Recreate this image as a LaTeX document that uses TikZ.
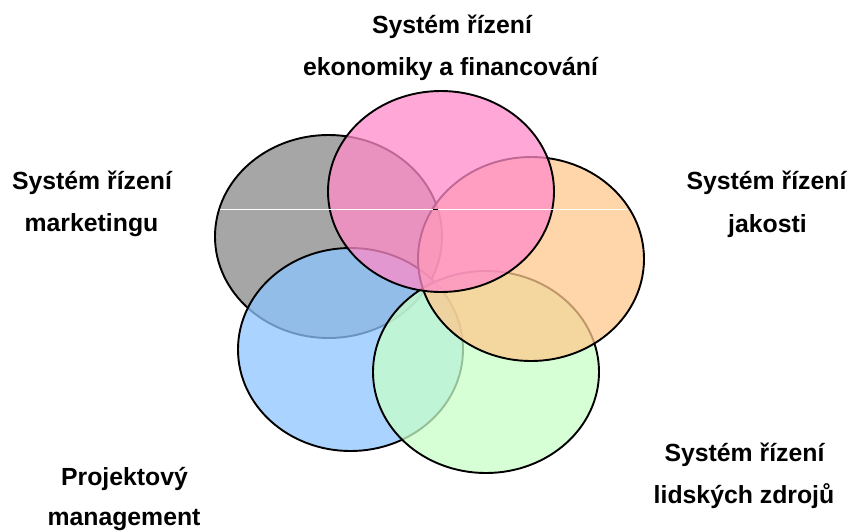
\documentclass[tikz,border=0pt]{standalone}
\usepackage{fontspec}
\setmainfont{Liberation Sans}
\begin{document}
\begin{tikzpicture}[x=1pt,y=-1pt,
  label/.style={font=\fontsize{24.8}{30}\selectfont\bfseries, inner sep=0pt, anchor=base},
  petal/.style={draw=black, line width=1.9pt, fill opacity=0.75, draw opacity=1}]
\definecolor{petgray}{RGB}{136,136,136}
\definecolor{petpink}{RGB}{255,139,201}
\definecolor{petorange}{RGB}{255,200,142}
\definecolor{petgreen}{RGB}{200,255,200}
\definecolor{petblue}{RGB}{142,198,255}
\useasboundingbox (0,0) rectangle (851,531);

% overlapping ellipses, bottom to top
\path[petal, fill=petgray]   (328.5,236.5) ellipse [x radius=113.5pt, y radius=101.5pt];
\path[petal, fill=petblue]   (350.5,349.5) ellipse [x radius=112.5pt, y radius=101.5pt];
\path[petal, fill=petgreen]  (486,372)     ellipse [x radius=113pt,   y radius=101pt];
\path[petal, fill=petorange] (531,259)     ellipse [x radius=113pt,   y radius=102pt];
\path[petal, fill=petpink]   (441,191.5)   ellipse [x radius=113pt,   y radius=100.5pt];

% thin white rule across the middle
\coordinate (rl) at (220,209);
\coordinate (rm1) at (432.5,209);
\coordinate (rm2) at (437.5,209);
\coordinate (rr) at (627,209);
\draw[black, line width=1pt] (rm1) -- (rm2);
\draw[white, line width=1pt] (rl) -- (rm1);
\draw[white, line width=1pt] (rm2) -- (rr);

% labels
\node[label] (fin1) at (452,33)    {Systém řízení};
\node[label] (fin2) at (450.5,75)  {ekonomiky a financování};
\node[label] (mkt1) at (92,189)    {Systém řízení};
\node[label] (mkt2) at (91.5,231)  {marketingu};
\node[label] (jak1) at (766.5,189) {Systém řízení};
\node[label] (jak2) at (767.5,232) {jakosti};
\node[label] (lz1)  at (744.5,461) {Systém řízení};
\node[label] (lz2)  at (744,503)   {lidských zdrojů};
\node[label] (pm1)  at (124.5,485) {Projektový};
\node[label] (pm2)  at (124,525)   {management};
\end{tikzpicture}
\end{document}
